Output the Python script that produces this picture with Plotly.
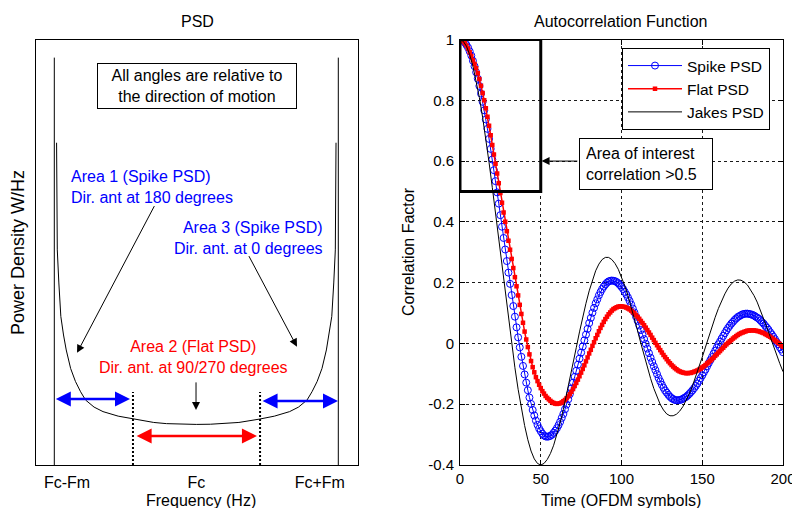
import plotly.graph_objects as go

# ---------------- Left panel: PSD (Jakes U-shape) ----------------
psd_freq = [-0.984, -0.979, -0.968, -0.954, -0.935, -0.916, -0.885, -0.851, -0.815, -0.78,
            -0.72, -0.657, -0.55, -0.445, -0.3, -0.21, -0.1, 0.0,
            0.1, 0.21, 0.3, 0.445, 0.55, 0.657, 0.72, 0.78, 0.815, 0.851, 0.885, 0.916,
            0.935, 0.954, 0.968, 0.979, 0.984]
psd_power = [8.18, 5.46, 4.62, 3.77, 3.30, 2.92, 2.45, 2.12, 1.86, 1.65,
             1.47, 1.355, 1.24, 1.165, 1.08, 1.05, 1.035, 1.03,
             1.035, 1.05, 1.08, 1.165, 1.24, 1.355, 1.47, 1.65, 1.86, 2.12, 2.45, 2.92,
             3.30, 3.77, 4.62, 5.46, 8.18]
spike_freq = [-1.0, 1.0]          # Fc-Fm and Fc+Fm
spike_height = 10.34
area_edges = [-0.446, 0.449]      # boundaries between areas (dotted lines)
area_edge_height = 1.855
psd_tick_vals = [-0.91, 0.0, 0.87]
psd_tick_text = ["Fc-Fm", "Fc", "Fc+Fm"]

# ---------------- Right panel: autocorrelation ----------------
time_symbols = list(range(0, 201))
spike_psd_milli = [
    1000, 999, 996, 990, 982, 973, 961, 947, 930, 912, 892, 871, 847, 822, 795, 767, 737, 706, 673, 640,
    605, 570, 534, 497, 460, 422, 384, 347, 309, 271, 233, 196, 159, 123, 88, 53, 20, -13, -44, -74,
    -102, -129, -154, -178, -199, -219, -237, -254, -268, -280, -289, -297, -303, -306, -307, -306, -304, -300, -294, -287,
    -279, -269, -258, -245, -232, -217, -201, -184, -167, -148, -129, -110, -90, -70, -50, -30, -10, 10, 29, 48,
    67, 84, 101, 117, 132, 145, 158, 169, 179, 187, 194, 200, 204, 206, 207, 206, 205, 202, 198, 192,
    186, 179, 170, 161, 151, 140, 128, 115, 102, 88, 74, 59, 44, 29, 14, -1, -17, -32, -47, -61,
    -75, -88, -101, -114, -125, -136, -146, -155, -162, -169, -175, -180, -183, -186, -187, -187, -186, -185, -182, -179,
    -176, -171, -166, -160, -154, -147, -140, -132, -123, -114, -105, -95, -86, -75, -65, -55, -45, -34, -24, -14,
    -3, 6, 16, 25, 34, 43, 51, 58, 65, 71, 77, 82, 87, 90, 93, 96, 97, 98, 98, 97,
    96, 94, 92, 88, 85, 81, 76, 70, 65, 58, 52, 45, 37, 30, 22, 14, 5, -3, -12, -20,
    -29]
flat_psd_milli = [
    1000, 999, 994, 988, 980, 970, 958, 946, 932, 919, 905, 889, 870, 848, 824, 800, 774, 746, 716, 685,
    653, 622, 591, 559, 527, 495, 463, 431, 400, 369, 338, 308, 278, 248, 218, 188, 158, 127, 97, 68,
    39, 13, -12, -36, -58, -78, -95, -111, -124, -136, -147, -157, -165, -173, -179, -184, -189, -193, -196, -198,
    -199, -198, -197, -194, -190, -186, -180, -174, -167, -159, -150, -140, -130, -119, -108, -96, -84, -72, -59, -46,
    -33, -21, -8, 4, 17, 28, 40, 51, 61, 71, 80, 88, 96, 102, 108, 113, 116, 119, 121, 122,
    122, 121, 120, 118, 115, 112, 108, 103, 99, 93, 87, 81, 74, 67, 60, 52, 44, 36, 28, 19,
    11, 2, -6, -14, -22, -30, -38, -45, -52, -59, -65, -71, -76, -81, -85, -89, -92, -94, -96, -97,
    -98, -98, -97, -97, -95, -93, -91, -89, -86, -83, -79, -75, -71, -66, -62, -57, -52, -47, -41, -36,
    -30, -25, -19, -14, -8, -3, 2, 7, 11, 16, 20, 24, 28, 31, 34, 36, 38, 40, 42, 42,
    43, 43, 43, 42, 41, 40, 38, 36, 34, 31, 28, 25, 22, 18, 14, 10, 6, 2, -2, -7,
    -11]
jakes_time = list(range(0, 201, 2))
jakes_psd_milli = [
    1000, 994, 978, 950, 913, 865, 809, 744, 673, 595, 513, 427, 340, 251, 164, 79, -3, -80, -151, -215,
    -270, -317, -354, -380, -395, -400, -395, -382, -362, -335, -301, -261, -217, -169, -118, -66, -14, 38, 87, 132,
    173, 209, 239, 261, 276, 283, 283, 276, 263, 244, 219, 190, 157, 120, 81, 41, 0, -40, -79, -115,
    -148, -177, -201, -219, -232, -238, -238, -233, -223, -208, -189, -166, -139, -110, -78, -45, -12, 22, 55, 86,
    115, 141, 163, 182, 196, 205, 209, 208, 202, 192, 177, 158, 136, 110, 83, 53, 23, -8, -38, -66,
    -93]
spike_psd = [v / 1000 for v in spike_psd_milli]
flat_psd = [v / 1000 for v in flat_psd_milli]
jakes_psd = [v / 1000 for v in jakes_psd_milli]
corr_ticks = [-0.4, -0.2, 0, 0.2, 0.4, 0.6, 0.8, 1]
corr_tick_text = ["-0.4", "-0.2", "0", "0.2", "0.4", "0.6", "0.8", "1"]
time_ticks = [0, 50, 100, 150, 200]
time_tick_text = ["0", "50", "100", "150", "200"]
interest_time = [0, 50]
interest_corr = [0.5, 1.0]

FONT = "Liberation Sans, Arial, sans-serif"
W, H = 792, 508
BLUE, RED = "#0000FF", "#FF0000"

def px(x):
    return x / W

def py(y):
    return 1 - y / H

fig = go.Figure()

# left panel traces
fig.add_trace(go.Scatter(x=psd_freq, y=psd_power, mode="lines", line=dict(color="black", width=1),
                         showlegend=False, xaxis="x", yaxis="y", hoverinfo="skip"))
fig.add_trace(go.Scatter(x=[spike_freq[0], spike_freq[0], None, spike_freq[1], spike_freq[1]],
                         y=[0, spike_height, None, 0, spike_height], mode="lines",
                         line=dict(color="black", width=1), showlegend=False, xaxis="x", yaxis="y"))
fig.add_trace(go.Scatter(x=[area_edges[0], area_edges[0], None, area_edges[1], area_edges[1]],
                         y=[0, area_edge_height, None, 0, area_edge_height], mode="lines",
                         line=dict(color="black", width=2, dash="2px,2px"), showlegend=False,
                         xaxis="x", yaxis="y"))

# right panel traces
fig.add_trace(go.Scatter(x=time_symbols, y=spike_psd, mode="lines+markers", name="Spike PSD",
                         line=dict(color=BLUE, width=1),
                         marker=dict(symbol="circle-open", size=7, color=BLUE, line=dict(width=1, color=BLUE)),
                         xaxis="x2", yaxis="y2"))
fig.add_trace(go.Scatter(x=time_symbols, y=flat_psd, mode="lines+markers", name="Flat PSD",
                         line=dict(color=RED, width=1.5),
                         marker=dict(symbol="square", size=4.5, color=RED),
                         xaxis="x2", yaxis="y2"))
fig.add_trace(go.Scatter(x=jakes_time, y=jakes_psd, mode="lines", name="Jakes PSD",
                         line=dict(color="black", width=1), xaxis="x2", yaxis="y2"))

ydom = [py(465), py(39.5)]
fig.update_layout(
    width=W, height=H, margin=dict(l=0, r=0, t=0, b=0),
    paper_bgcolor="white", plot_bgcolor="white",
    font=dict(family=FONT, size=16, color="black"),
    xaxis=dict(domain=[px(36), px(358)], range=[-1.1289, 1.1387], showgrid=False, zeroline=False,
               showline=True, mirror=True, linecolor="black", linewidth=1,
               tickvals=psd_tick_vals, ticktext=psd_tick_text, ticks="", ticklabelstandoff=3,
               tickfont=dict(size=16), automargin=False, fixedrange=True),
    yaxis=dict(domain=ydom, range=[0, 10.8], showgrid=False, zeroline=False, showticklabels=False,
               showline=True, mirror=True, linecolor="black", linewidth=1, ticks="",
               automargin=False, fixedrange=True),
    xaxis2=dict(domain=[px(460), px(783)], range=[0, 200], anchor="y2",
                showgrid=True, gridcolor="#1a1a1a", gridwidth=1, griddash="3px,3px", zeroline=False,
                showline=True, mirror="ticks", linecolor="black", linewidth=1,
                ticks="inside", ticklen=5, tickcolor="black",
                tickvals=time_ticks, ticktext=time_tick_text, ticklabelstandoff=0,
                ticklabeloverflow="allow", tickfont=dict(size=15), automargin=False),
    yaxis2=dict(domain=ydom, range=[-0.4, 1.0], anchor="x2",
                showgrid=True, gridcolor="#1a1a1a", gridwidth=1, griddash="3px,3px", zeroline=False,
                showline=True, mirror="ticks", linecolor="black", linewidth=1,
                ticks="inside", ticklen=5, tickcolor="black",
                tickvals=corr_ticks, ticktext=corr_tick_text, ticklabelstandoff=2,
                tickfont=dict(size=15), automargin=False),
    legend=dict(x=px(622), y=py(48), xanchor="left", yanchor="top", bgcolor="white",
                bordercolor="black", borderwidth=1, font=dict(size=15.5), itemwidth=54,
                tracegroupgap=0),
    showlegend=True,
)

# area-of-interest rectangle
fig.add_shape(type="rect", xref="x2", yref="y2", x0=interest_time[0], x1=interest_time[1],
              y0=interest_corr[0], y1=interest_corr[1], line=dict(color="black", width=3), layer="above")

ann = []
# titles and axis labels
def label(text, x, y, **kw):
    d = dict(text=text, x=px(x), y=py(y), xref="paper", yref="paper", showarrow=False,
             xanchor="center", yanchor="middle")
    d.update(kw)
    ann.append(d)

label("PSD", 197, 21)
label("Autocorrelation Function", 620, 21)
label("Frequency (Hz)", 201, 500)
label("Time (OFDM symbols)", 621, 500)
label("Power Density W/Hz", 18, 253, textangle=-90, font=dict(size=18))
label("Correlation Factor", 408, 252, textangle=-90)

# left panel notes
ann.append(dict(text="All angles are relative to<br>the direction of motion", x=0.005, y=9.61,
                xref="x", yref="y", xanchor="center", yanchor="middle", showarrow=False,
                bordercolor="black", borderwidth=1, borderpad=3, bgcolor="white", width=192, align="center"))
ann.append(dict(text="Area 1 (Spike PSD)<br>Dir. ant at 180 degrees", x=-0.896, y=7.05, xref="x", yref="y",
                xanchor="left", yanchor="middle", align="left", showarrow=False, font=dict(color=BLUE)))
ann.append(dict(text="Area 3 (Spike PSD)<br>Dir. ant. at 0 degrees", x=0.906, y=5.77, xref="x", yref="y",
                xanchor="right", yanchor="middle", align="right", showarrow=False, font=dict(color=BLUE)))
ann.append(dict(text="Area 2 (Flat PSD)<br>Dir. ant. at 90/270 degrees", x=-0.021, y=2.75, xref="x", yref="y",
                xanchor="center", yanchor="middle", align="center", showarrow=False, font=dict(color=RED)))
# black pointer arrows
for (hx, hy, tx, ty) in [(-0.840, 2.846, -0.290, 6.61), (0.709, 3.0, 0.365, 5.34), (-0.002, 1.398, -0.002, 2.135)]:
    ann.append(dict(text="", x=hx, y=hy, ax=tx, ay=ty, xref="x", yref="y", axref="x", ayref="y",
                    showarrow=True, arrowhead=2, arrowsize=1.6, arrowwidth=1, arrowcolor="black",
                    standoff=0, startstandoff=0))
# double arrows marking the areas
for (x0, x1, yy, col) in [(-1.0, -0.467, 1.677, BLUE), (0.456, 0.998, 1.626, BLUE), (-0.431, 0.427, 0.737, RED)]:
    ann.append(dict(text="", x=x1, y=yy, ax=x0, ay=yy, xref="x", yref="y", axref="x", ayref="y",
                    showarrow=True, arrowside="end+start", arrowhead=2, startarrowhead=2,
                    arrowsize=1.2, startarrowsize=1.2, arrowwidth=2.5, arrowcolor=col,
                    standoff=0, startstandoff=0))

# right panel note
ann.append(dict(text="Area of interest<br>correlation >0.5", x=115.2, y=0.589, xref="x2", yref="y2",
                xanchor="center", yanchor="middle", showarrow=False, bordercolor="black", borderwidth=1,
                borderpad=6, bgcolor="white", width=120, align="left"))
ann.append(dict(text="", x=50.5, y=0.6, ax=73.6, ay=0.6, xref="x2", yref="y2", axref="x2", ayref="y2",
                showarrow=True, arrowhead=2, arrowsize=1.6, arrowwidth=1, arrowcolor="black",
                standoff=0, startstandoff=0))

fig.update_layout(annotations=ann)
fig.write_html("out.html", config={"displayModeBar": False},
               post_script="document.body.style.margin='0';document.body.style.overflow='hidden';")
